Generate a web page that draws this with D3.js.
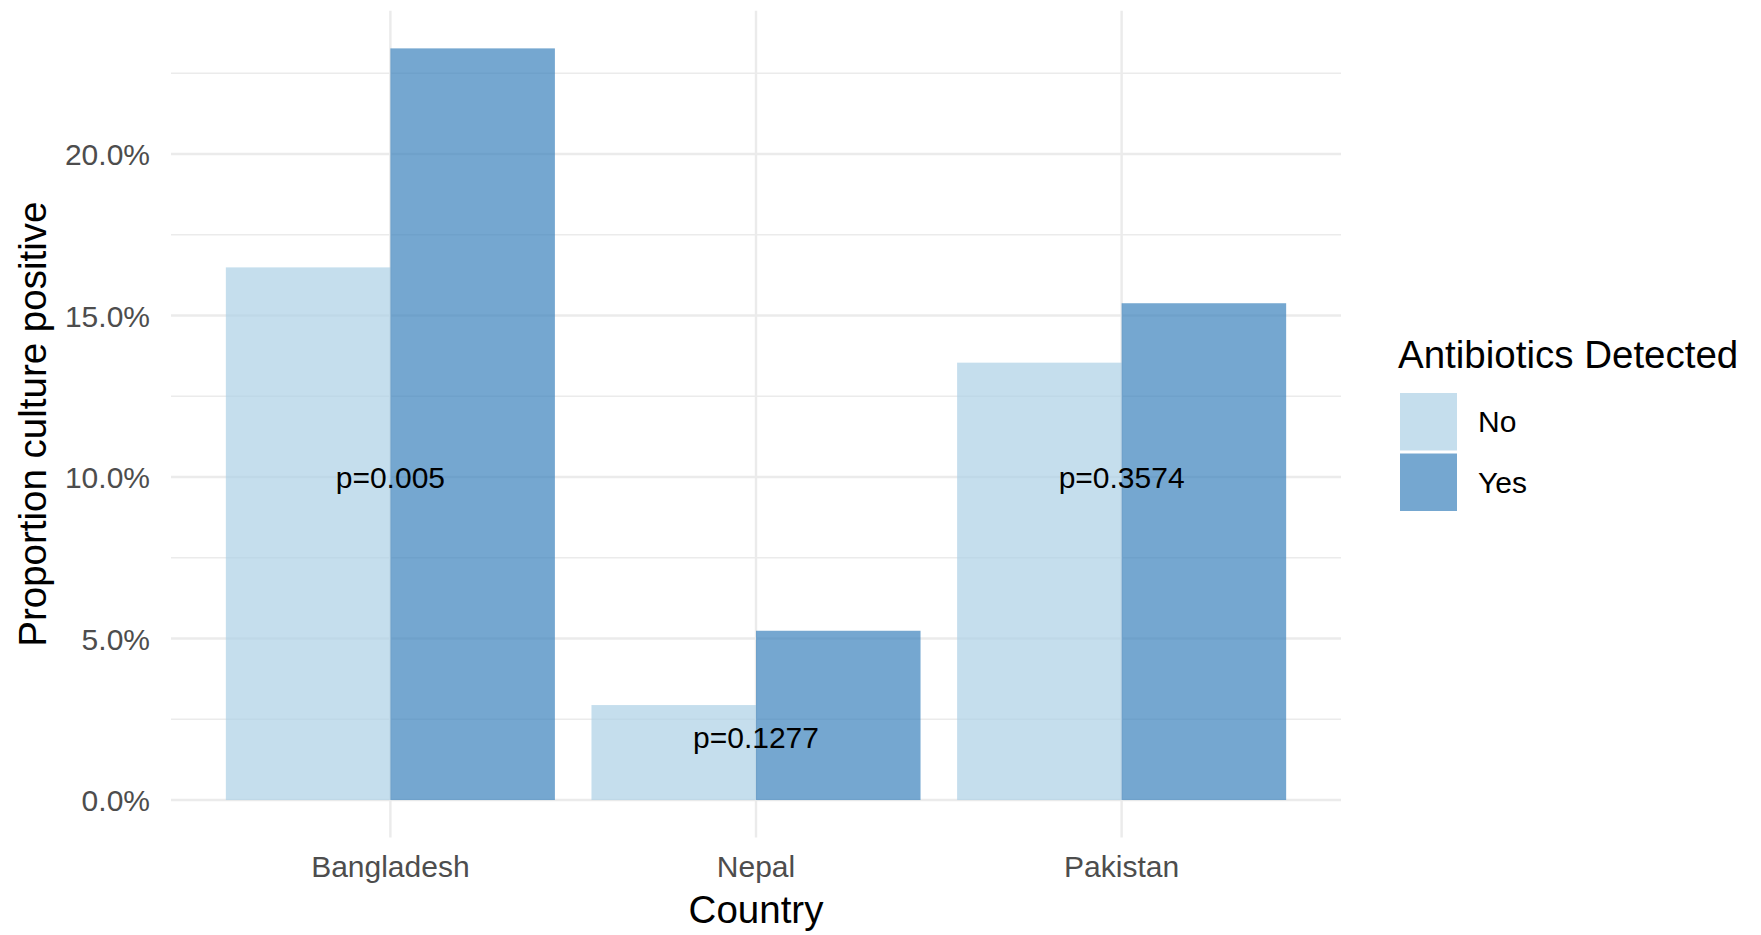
<!DOCTYPE html>
<html>
<head>
<meta charset="utf-8">
<script src="https://cdn.jsdelivr.net/npm/d3@7"></script>
<style>
  html, body { margin: 0; padding: 0; background: #ffffff; }
  svg { display: block; font-family: "Liberation Sans", Arial, sans-serif; }
</style>
</head>
<body>
<svg id="chart" width="1761" height="935"></svg>
<script>
// Proportion of culture-positive samples by country and antibiotic detection
const countries = ["Bangladesh", "Nepal", "Pakistan"];
const groups = ["No", "Yes"];
const propNo  = [0.1649, 0.0294, 0.1354];
const propYes = [0.2327, 0.0524, 0.1538];
const pLabels = ["p=0.005", "p=0.1277", "p=0.3574"];
const pLabelY = [0.100, 0.0195, 0.100];
const majorTicks = [0, 0.05, 0.10, 0.15, 0.20];
const minorTicks = [0.025, 0.075, 0.125, 0.175, 0.225];
const fillColors = ["#acd0e5", "#3b81bc"];

const rows = countries.map((c, i) => ({ country: c, No: propNo[i], Yes: propYes[i] }));

const svg = d3.select("#chart");
const panel = { left: 171, right: 1341, top: 10.8, bottom: 837.6 };

// y: continuous with 5% expansion on both sides of the data range
const yMax = d3.max(propYes.concat(propNo));
const pad = 0.05 * yMax;
const y = d3.scaleLinear().domain([-pad, yMax + pad]).range([panel.bottom, panel.top]);

// x: discrete, bars take 90% of each slot, 0.6 slot of expansion at the ends
const x = d3.scaleBand().domain(countries).range([panel.left, panel.right])
  .paddingInner(0.1).paddingOuter(0.15);
const xg = d3.scaleBand().domain(groups).range([0, x.bandwidth()]).padding(0);
const color = d3.scaleOrdinal().domain(groups).range(fillColors);

// grid
const grid = svg.append("g");
grid.selectAll("line.minor").data(minorTicks).join("line")
  .attr("x1", panel.left).attr("x2", panel.right)
  .attr("y1", d => y(d)).attr("y2", d => y(d))
  .attr("stroke", "#ebebeb").attr("stroke-width", 1.3);
grid.selectAll("line.major").data(majorTicks).join("line")
  .attr("x1", panel.left).attr("x2", panel.right)
  .attr("y1", d => y(d)).attr("y2", d => y(d))
  .attr("stroke", "#ebebeb").attr("stroke-width", 2.4);
grid.selectAll("line.vert").data(countries).join("line")
  .attr("x1", d => x(d) + x.bandwidth() / 2).attr("x2", d => x(d) + x.bandwidth() / 2)
  .attr("y1", panel.top).attr("y2", panel.bottom)
  .attr("stroke", "#ebebeb").attr("stroke-width", 2.4);

// bars
const bars = svg.append("g");
rows.forEach(r => {
  bars.selectAll(null).data(groups.map(g => ({ g, v: r[g] }))).join("rect")
    .attr("x", d => x(r.country) + xg(d.g))
    .attr("width", xg.bandwidth())
    .attr("y", d => y(d.v))
    .attr("height", d => y(0) - y(d.v))
    .attr("fill", d => color(d.g))
    .attr("fill-opacity", 0.7);
});

// p-value labels
svg.append("g").selectAll("text").data(countries).join("text")
  .attr("x", d => x(d) + x.bandwidth() / 2)
  .attr("y", (d, i) => y(pLabelY[i]))
  .attr("dy", "0.35em")
  .attr("text-anchor", "middle")
  .attr("font-size", 30)
  .attr("fill", "#000000")
  .text((d, i) => pLabels[i]);

// y axis tick labels
const yAxis = d3.axisLeft(y).tickValues(majorTicks).tickFormat(d3.format(".1%")).tickSize(0).tickPadding(21);
svg.append("g").attr("transform", `translate(${panel.left},0)`).call(yAxis)
  .call(g => g.select(".domain").remove())
  .call(g => g.selectAll("text").attr("font-size", 30).attr("fill", "#4d4d4d")
    .attr("font-family", "'Liberation Sans', Arial, sans-serif").attr("dy", "0.35em"));

// x axis tick labels
const xAxis = d3.axisBottom(x).tickSize(0).tickPadding(0);
svg.append("g").attr("transform", `translate(0,${panel.bottom})`).call(xAxis)
  .call(g => g.select(".domain").remove())
  .call(g => g.selectAll("text").attr("font-size", 30).attr("fill", "#4d4d4d")
    .attr("font-family", "'Liberation Sans', Arial, sans-serif")
    .attr("y", 39.5).attr("dy", 0));

// axis titles
svg.append("text")
  .attr("x", (panel.left + panel.right) / 2).attr("y", 923)
  .attr("text-anchor", "middle").attr("font-size", 38.5).attr("fill", "#000")
  .text("Country");
svg.append("text")
  .attr("transform", `translate(46,${(panel.top + panel.bottom) / 2}) rotate(-90)`)
  .attr("text-anchor", "middle").attr("font-size", 38.5).attr("fill", "#000")
  .text("Proportion culture positive");

// legend
const legend = svg.append("g").attr("transform", "translate(1398,0)");
legend.append("text").attr("x", 0).attr("y", 368)
  .attr("font-size", 38.5).attr("fill", "#000").text("Antibiotics Detected");
const keyY = d3.scaleBand().domain(groups).range([393, 511]).paddingInner(0.05);
legend.selectAll("rect").data(groups).join("rect")
  .attr("x", 2).attr("y", d => keyY(d))
  .attr("width", 57).attr("height", keyY.bandwidth())
  .attr("fill", d => color(d)).attr("fill-opacity", 0.7);
legend.selectAll("text.lab").data(groups).join("text")
  .attr("class", "lab")
  .attr("x", 80).attr("y", d => keyY(d) + keyY.bandwidth() / 2)
  .attr("dy", "0.35em").attr("font-size", 30).attr("fill", "#000")
  .text(d => d);
</script>
</body>
</html>
